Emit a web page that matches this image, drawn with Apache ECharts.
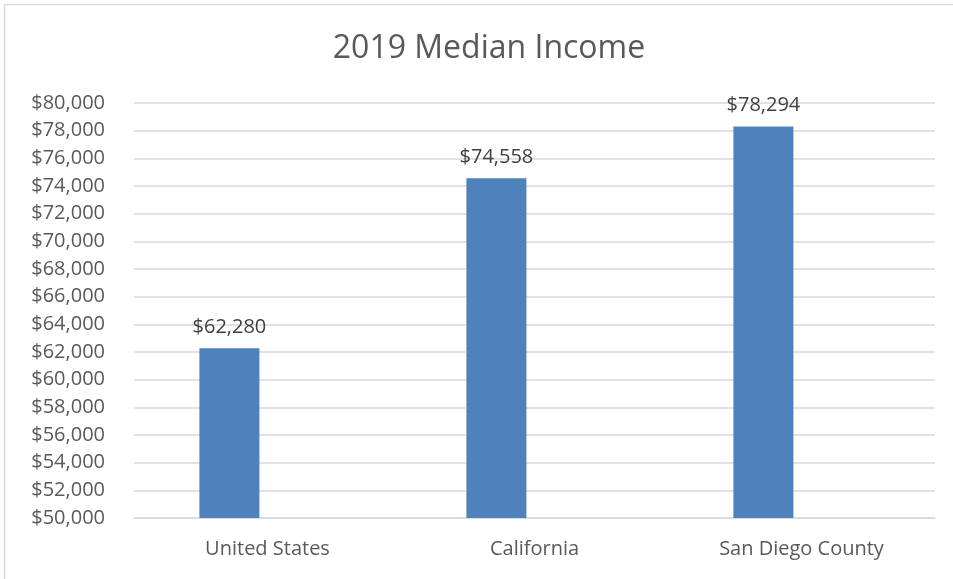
<!DOCTYPE html>
<html>
<head>
<meta charset="utf-8">
<script src="https://cdn.jsdelivr.net/npm/echarts@6/dist/echarts.min.js"></script>
<style>
html, body { margin: 0; padding: 0; background: #fff; }
#chart { width: 953px; height: 579px; }
</style>
</head>
<body>
<div id="chart"></div>
<script>
// 数据
const regions = ['United States', 'California', 'San Diego County'];
const income2019 = [62280, 74558, 78294];
// the source chart has a second, empty series that shifts the bars left
const emptySeries = [null, null, null];
const yMin = 50000;
const yMax = 80000;
const yStep = 2000;

const money = (v) => '$' + v.toLocaleString('en-US');

const myChart = echarts.init(document.getElementById('chart'));
const option = {
	backgroundColor: '#fff',
	animation: false,
	textStyle: { fontFamily: 'Open Sans' },
	title: {
		text: '2019 Median Income',
		left: 484,
		top: 28,
		textAlign: 'center',
		textStyle: { fontFamily: 'Open Sans', fontSize: 32, fontWeight: 'normal', color: '#595959' },
	},
	graphic: [
		{
			type: 'rect',
			shape: { x: 4.5, y: 4.5, width: 960, height: 600 },
			style: { fill: 'none', stroke: '#d9d9d9', lineWidth: 1.5 },
			silent: true,
		},
	],
	grid: { left: 134, right: 18, top: 103, bottom: 61 },
	xAxis: {
		type: 'category',
		data: regions,
		axisLine: { lineStyle: { color: '#d9d9d9', width: 1.5 } },
		axisTick: { show: false },
		axisLabel: { color: '#595959', fontSize: 20, margin: 21 },
	},
	yAxis: {
		type: 'value',
		min: yMin,
		max: yMax,
		interval: yStep,
		axisLine: { show: false },
		axisTick: { show: false },
		splitLine: { lineStyle: { color: '#d9d9d9', width: 1.5 } },
		axisLabel: { color: '#595959', fontSize: 20, margin: 29, formatter: money },
	},
	series: [
		{
			name: '2019',
			type: 'bar',
			data: income2019,
			barWidth: 60,
			barGap: '27%',
			itemStyle: { color: '#4f81bd' },
			label: {
				show: true,
				position: 'top',
				distance: 11,
				color: '#404040',
				fontSize: 20,
				formatter: (p) => money(p.value),
			},
		},
		{
			name: 'empty',
			type: 'bar',
			data: emptySeries,
			barWidth: 60,
			itemStyle: { color: '#c0504d' },
		},
	],
};
myChart.setOption(option);
</script>
</body>
</html>
